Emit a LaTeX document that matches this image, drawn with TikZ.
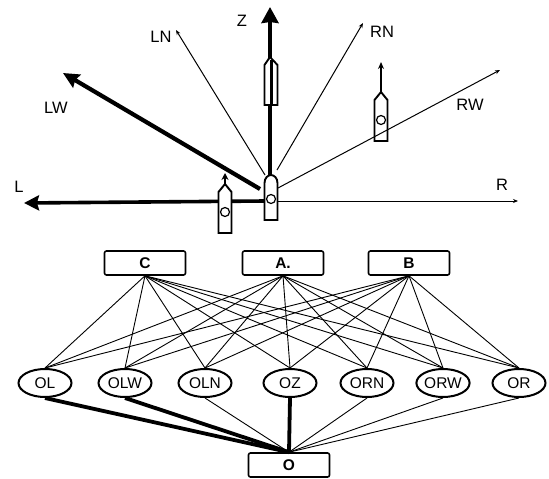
\documentclass[tikz,border=0pt]{standalone}
\usepackage{fontspec}
\setmainfont{Liberation Sans}
\usetikzlibrary{arrows.meta,shapes.geometric}
\tikzset{
  boxnode/.style={draw,line width=1.6pt,rounded corners=2pt,minimum width=81pt,minimum height=24pt,inner sep=0pt,font=\fontsize{15.5}{15.5}\selectfont\bfseries},
  oval/.style={draw,line width=2pt,ellipse,minimum width=53pt,minimum height=28pt,inner sep=0pt,fill=white,font=\fontsize{15.5}{15.5}\selectfont},
  lab/.style={font=\fontsize{16.5}{16.5}\selectfont,inner sep=0pt},
  thinlink/.style={line width=0.9pt},
  thicklink/.style={line width=3.8pt},
  ship/.style={draw,line width=1.9pt,fill=white},
  pics/rocket/.style={code={
    \draw[ship] (-6.5,21) -- (-6.5,-20) -- (0,-28) -- (6.5,-20) -- (6.5,21) -- cycle;
    \draw[line width=1.2pt] (0,0) circle (4.5);
  }}
}
\begin{document}
\begin{tikzpicture}[x=1pt,y=-1pt]
\useasboundingbox (0,0) rectangle (549,479);
\coordinate (tipZ) at (270,7);
\coordinate (tipLW) at (63,73);
\coordinate (tipLN) at (176,30);
\coordinate (tipRN) at (363,23);
\coordinate (tipRW) at (500,70);
\coordinate (tipL) at (24,203);
\coordinate (tipR) at (518,201);
% ship on the right lies under the RW arrow
\pic at (381,120) {rocket};
\draw[line width=1.3pt,-{Stealth[length=7pt,width=6pt,open]}] (381,92) -- (381,62);
% arrows
\draw[line width=1pt,-{Stealth[length=5pt,width=4pt]}] (265,175) -- (tipLN);
\draw[line width=1pt,-{Stealth[length=5pt,width=4pt]}] (277,170) -- (tipRN);
\draw[line width=1pt,-{Stealth[length=5pt,width=4pt]}] (278,188) -- (tipRW);
\draw[line width=1pt,-{Stealth[length=5pt,width=4pt]}] (278,201) -- (tipR);
\draw[line width=4.2pt,-{Stealth[length=16pt,width=15pt,inset=2pt]}] (260,189) -- (tipLW);
\draw[line width=3.6pt,-{Stealth[length=15pt,width=15pt,inset=2pt]}] (265,201) -- (tipL);
\draw[line width=3.6pt,-{Stealth[length=16pt,width=17pt,inset=1pt]}] (270,176) -- (tipZ);
% ships
\draw[ship] (264.5,220) -- (264.5,183) .. controls (264.5,178) and (268,175) .. (271,175) .. controls (274,175) and (277.5,178) .. (277.5,183) -- (277.5,220) -- cycle;
\draw[line width=1.2pt] (271,199) circle (4.5);
\pic at (225,212) {rocket};
\draw[line width=1.3pt,-{Stealth[length=7pt,width=7pt]}] (225,185) -- (225,173);
\draw[ship] (264.5,105) -- (264.5,65) -- (270,57) -- (277.5,65) -- (277.5,105) -- cycle;
\draw[line width=3pt] (271,60) -- (271,104);
% direction labels
\node[lab] (lZ) at (242,21) {Z};
\node[lab] (lLN) at (161,37) {LN};
\node[lab] (lRN) at (382,32) {RN};
\node[lab] (lRW) at (470,105) {RW};
\node[lab] (lR) at (502,185) {R};
\node[lab] (lL) at (19,187) {L};
\node[lab] (lLW) at (56,108) {LW};
% network
\node[boxnode] (C) at (145,263) {C};
\node[boxnode] (A) at (283,263) {A.};
\node[boxnode] (B) at (409,263) {B};
\node[boxnode] (O) at (289,465) {O};
\foreach \n/\x in {OL/45,OLW/125,OLN/205,OZ/290,ORN/367,ORW/443,OR/519}{
  \node[oval] (\n) at (\x,383) {\n};
}
\foreach \t in {C,A,B}{
  \foreach \n in {OL,OLW,OLN,OZ,ORN,ORW,OR}{
    \draw[thinlink] (\t.south) -- (\n.north);
  }
}
\foreach \n in {OLN,ORN,ORW,OR}{
  \draw[thinlink] (\n.south) -- (O.north);
}
\foreach \n in {OL,OLW,OZ}{
  \draw[thicklink] (\n.south) -- (O.north);
}
\end{tikzpicture}
\end{document}
